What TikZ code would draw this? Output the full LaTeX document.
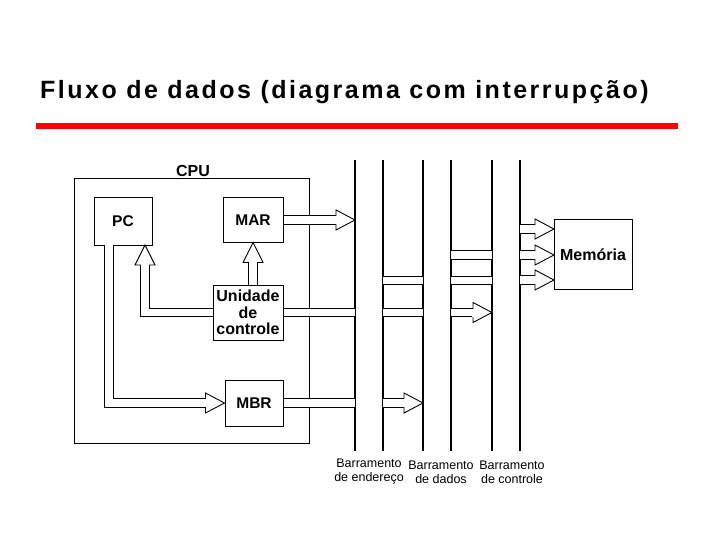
\documentclass[tikz,border=0pt]{standalone}
\usepackage{fontspec}
\setmainfont{Liberation Sans}
\usetikzlibrary{positioning,calc}
\tikzset{
  blk/.style={draw, line width=1pt, inner sep=0pt, font=\bfseries\fontsize{15.5}{17}\selectfont},
  shaft/.style={draw, line width=0.9pt, double, double distance=7.5pt},
  bus/.style={line width=1.1pt},
  buslbl/.style={font=\fontsize{12.5}{14}\selectfont, align=center}
}
% hollow heads: tip coordinate, shaft style width ~9pt
\newcommand\rhead[1]{%
  \filldraw[fill=white, line width=0.9pt] (#1) -- ++(-19,10) -- ++(0,-20) -- cycle;
  \draw[white, line width=1.4pt] ($(#1)+(-19,-4)$) -- ++(0,8);}
\newcommand\uhead[1]{%
  \filldraw[fill=white, line width=0.9pt] (#1) -- ++(10,20) -- ++(-20,0) -- cycle;
  \draw[white, line width=1.4pt] ($(#1)+(-4,20)$) -- ++(8,0);}
\begin{document}
\begin{tikzpicture}[x=1pt, y=-1pt]
\useasboundingbox (0,0) rectangle (720,540);
% title
\node[anchor=west, inner sep=0pt, font=\bfseries\fontsize{25}{28}\selectfont\addfontfeature{LetterSpace=10}] (title) at (40,92) {Fluxo de dados (diagrama com interrupção)};
\draw[red, line width=6pt] (36,126) -- (678,126);
% CPU
\draw[line width=1pt] (74,179) rectangle (309,443);
\node[font=\bfseries\fontsize{16}{18}\selectfont] (cpu) at (193,171) {CPU};
\node[blk, minimum width=58pt, minimum height=47pt] (pc) at (123,221.5) {PC};
\node[blk, minimum width=60pt, minimum height=44pt] (mar) at (253,220) {MAR};
\node[blk, minimum width=70pt, minimum height=55pt, align=center, font=\bfseries\fontsize{16}{16.5}\selectfont] (uc) at (248,312.5) {Unidade\\de\\controle};
\node[blk, minimum width=58pt, minimum height=46pt] (mbr) at (254,403) {MBR};
\node[blk, minimum width=78pt, minimum height=69pt, font=\bfseries\fontsize{16}{18}\selectfont] (mem) at (593,254.5) {Memória};
% buses
\foreach \x/\n in {355/a1,383/a2,423/d1,451/d2,492/c1,520/c2}
  \draw[bus] (\x,160) coordinate (\n) -- (\x,451) coordinate (\n b);
\node[buslbl] (lbla) at (369,472) {Barramento\\de endereço};
\node[buslbl] (lbld) at (441,472) {Barramento\\de dados};
\node[buslbl] (lblc) at (512,472) {Barramento\\de controle};
% MAR -> address bus
\coordinate (t1) at (a1 |- mar.east);
\draw[shaft] (mar.east) -- ($(t1)+(-18,0)$);
\rhead{t1}
% UC -> MAR
\draw[shaft] (uc.north -| mar.south) -- ($(mar.south)+(0,19)$);
\uhead{mar.south}
% UC -> PC
\coordinate (t2) at (145,245);
\draw[shaft] (uc.west) -- (t2 |- uc.west) -- ($(t2)+(0,19)$);
\uhead{t2}
% PC -> MBR
\coordinate (t3) at (109,245);
\draw[shaft] (t3) -- (t3 |- mbr.west) -- ($(mbr.west)+(-18,0)$);
\rhead{mbr.west}
% UC -> control bus
\draw[shaft] (uc.east) -- (a1 |- uc.east);
\draw[shaft] (a2 |- uc.east) -- (d1 |- uc.east);
\coordinate (t4) at (c1 |- uc.east);
\draw[shaft] (d2 |- uc.east) -- ($(t4)+(-18,0)$);
\rhead{t4}
% MBR -> data bus
\draw[shaft] (mbr.east) -- (a1 |- mbr.east);
\coordinate (t5) at (d1 |- mbr.east);
\draw[shaft] (a2 |- mbr.east) -- ($(t5)+(-18,0)$);
\rhead{t5}
% data bus crossings
\coordinate (y1) at (0,255);
\coordinate (y2) at (0,280.5);
\draw[shaft] (a2 |- y2) -- (d1 |- y2);
\draw[shaft] (d2 |- y1) -- (c1 |- y1);
\draw[shaft] (d2 |- y2) -- (c1 |- y2);
% control bus -> memory
\foreach \y/\n in {229/m1,255/m2,280/m3}{
  \coordinate (\n) at (554,\y);
  \draw[shaft] (c2 |- \n) -- ($(\n)+(-18,0)$);
  \rhead{\n}
}
\end{tikzpicture}
\end{document}
